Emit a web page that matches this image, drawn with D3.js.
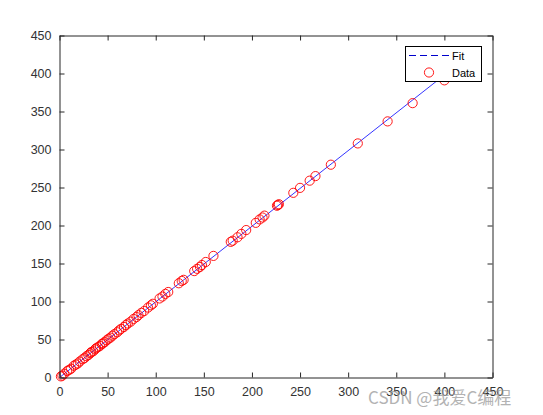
<!DOCTYPE html>
<html><head><meta charset="utf-8">
<script src="https://cdn.jsdelivr.net/npm/d3@7"></script>
<style>
body{margin:0;background:#fff;}
text{font-family:"Liberation Sans",Arial,Helvetica,sans-serif;}
</style></head>
<body>
<svg id="c" width="543" height="415"></svg>
<script>
const xData=[1.5,3,5,8,10,12,15,17,19,21,24,26,28,30,32,33,35,37,38,40,42,44,45,47,49,51,53,55,57,60,62,64,67,69,71,74,77,80,82,85,88,92,95,97,104,107,110,113,124,127,129,140,143,146,148,152,160,178,180,185,189,194,204,208,211,213,226,227,228,243,250,260,266,282,310,341,367,400];
const yData=[1.5,2.5,5,8.5,10,11.5,15.5,17,18.5,21,24,25.5,28,29.5,32,33.5,34.5,37,38.5,40,41.5,44,45,46.5,49,51,52.5,55,57,59.5,62,64,66.5,69,71,73.5,77,79.5,82,85,87.5,92,95,97,104,106.5,110,112.5,124,127,128.5,140,143,145.5,148,152,160,178.5,180,184.5,189,194,203.5,208,210.5,213,226,227,228,243,249.5,259,265,280,308,337,361,391];
const fitX=[0,400];
const fitY=[0,398];
const xTicks=[0,50,100,150,200,250,300,350,400,450];
const yTicks=[0,50,100,150,200,250,300,350,400,450];
const legendLabels=["Fit","Data"];

const svg=d3.select("#c");
const L=59.5,R=492.5,T=35.5,B=377.5;
const x=d3.scaleLinear().domain([0,450]).range([L,R]);
const y=d3.scaleLinear().domain([0,450]).range([B,T]);

// fit line
const line=d3.line().x((d,i)=>x(fitX[i])).y((d,i)=>y(fitY[i]));
svg.append("path").datum(fitX).attr("d",line).attr("fill","none").attr("stroke","#0000ff").attr("stroke-width",0.8);

// data circles
svg.append("g").selectAll("circle").data(xData).join("circle")
  .attr("cx",(d)=>x(d)).attr("cy",(d,i)=>y(yData[i])).attr("r",4.6)
  .attr("fill","none").attr("stroke","#ff0000").attr("stroke-width",0.9);

// axes
const col="#262626";
const gB=svg.append("g").attr("transform",`translate(0,${B})`).call(d3.axisBottom(x).tickValues(xTicks).tickSizeInner(-5).tickSizeOuter(0).tickPadding(10));
const gL=svg.append("g").attr("transform",`translate(${L},0)`).call(d3.axisLeft(y).tickValues(yTicks).tickSizeInner(-5).tickSizeOuter(0).tickPadding(8));
const gT=svg.append("g").attr("transform",`translate(0,${T})`).call(d3.axisTop(x).tickValues(xTicks).tickSizeInner(-5).tickSizeOuter(0).tickFormat(""));
const gR=svg.append("g").attr("transform",`translate(${R},0)`).call(d3.axisRight(y).tickValues(yTicks).tickSizeInner(-5).tickSizeOuter(0).tickFormat(""));
[gB,gL,gT,gR].forEach(g=>{
  g.selectAll("path.domain").attr("stroke",col).attr("stroke-width",1);
  g.selectAll(".tick line").attr("stroke",col);
  g.selectAll("text").attr("fill","#333").style("font-size","12.5px");
});

// legend
const lg=svg.append("g");
lg.append("rect").attr("x",405.5).attr("y",46.5).attr("width",76).attr("height",35).attr("fill","#fff").attr("stroke","#000").attr("stroke-width",1);
lg.append("line").attr("x1",409).attr("x2",450).attr("y1",55.5).attr("y2",55.5).attr("stroke","#0000cc").attr("stroke-width",1).attr("stroke-dasharray","7,4");
lg.append("circle").attr("cx",429).attr("cy",72.5).attr("r",4.6).attr("fill","none").attr("stroke","#ff0000").attr("stroke-width",0.9);
lg.selectAll("text").data(legendLabels).join("text").attr("x",452).attr("y",(d,i)=>60+i*17).text(d=>d).style("font-size","11px").attr("fill","#000");

// watermark
svg.append("text").attr("x",368).attr("y",404).text("CSDN @我爱C编程")
  .style("font-family","'Noto Sans CJK SC','Liberation Sans',sans-serif").style("font-size","17px").attr("fill","#9a9a9a").attr("opacity",0.75);
</script>
</body></html>
